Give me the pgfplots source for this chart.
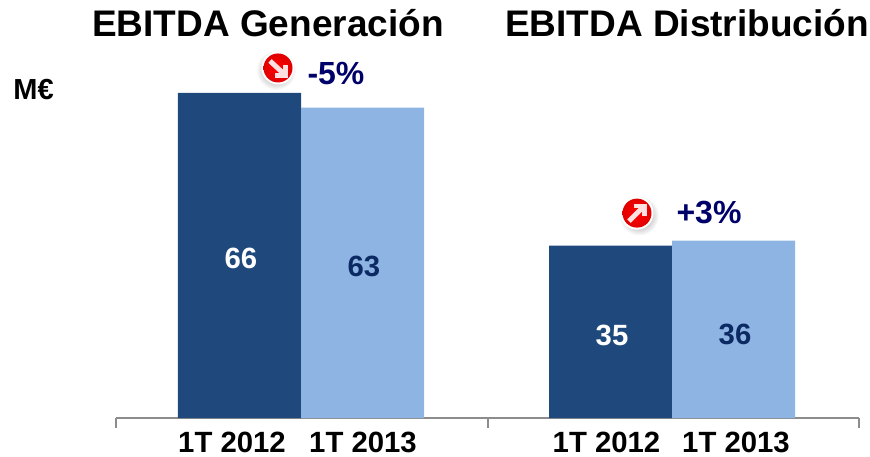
\documentclass[border=0pt]{standalone}
\usepackage{fontspec}
\setmainfont{Liberation Sans}
\usepackage{pgfplots}
\pgfplotsset{compat=1.18}
\usetikzlibrary{fadings,calc}
\definecolor{darkbar}{HTML}{1F497D}
\definecolor{lightbar}{HTML}{8EB4E3}
\definecolor{navy}{HTML}{00006B}
\definecolor{valblue}{HTML}{0B2A63}
\definecolor{axisgray}{HTML}{8C8C8C}
\tikzfading[name=badgeshadow,inner color=transparent!0,outer color=transparent!100]
\begin{document}
\begin{tikzpicture}[x=1pt,y=1pt]
\begin{axis}[
  scale only axis,
  width=743pt, height=418pt,
  xmin=116, xmax=859,
  ymin=0, ymax=84.87,
  axis y line=none,
  axis x line=bottom,
  axis line style={axisgray,line width=1.8pt,-},
  tick style={axisgray,line width=1.6pt},
  xtick={232,363,606.5,736},
  xticklabels={1T 2012,1T 2013,1T 2012,1T 2013},
  major tick length=0pt,
  extra x ticks={116,488,859},
  extra x tick labels={},
  extra x tick style={major tick length=10pt,tick align=outside},
  tick label style={font=\bfseries\fontsize{29.3}{32}\selectfont,text=black,yshift=-11pt},
  clip=false,
  bar shift=0pt,
  bar width=123pt,
]
\addplot[ybar,fill=darkbar,draw=none] coordinates {(239.5,66) (610.5,35)};
\addplot[ybar,fill=lightbar,draw=none] coordinates {(362.5,63) (733.5,36)};
% value labels
\node[text=white,font=\bfseries\fontsize{29.3}{32}\selectfont] at (axis cs:241,32.5) {66};
\node[text=valblue,font=\bfseries\fontsize{29.3}{32}\selectfont] at (axis cs:364,30.8) {63};
\node[text=white,font=\bfseries\fontsize{29.3}{32}\selectfont] at (axis cs:612,16.8) {35};
\node[text=valblue,font=\bfseries\fontsize{29.3}{32}\selectfont] at (axis cs:735,16.9) {36};
% titles and annotations
\node[inner sep=0pt,text=black,font=\bfseries\fontsize{37}{40}\selectfont] at (axis cs:268,80.1) {EBITDA Generación};
\node[inner sep=0pt,text=black,font=\bfseries\fontsize{37}{40}\selectfont] at (axis cs:687,80.1) {EBITDA Distribución};
\node[text=black,font=\bfseries\fontsize{29}{32}\selectfont] at (axis cs:33.5,66.7) {M€};
\node[text=navy,font=\bfseries\fontsize{32}{35}\selectfont] at (axis cs:336,69.9) {-5\%};
\node[text=navy,font=\bfseries\fontsize{32}{35}\selectfont] at (axis cs:709,41.8) {+3\%};
\coordinate (b1) at (axis cs:278,71.07);
\coordinate (b2) at (axis cs:637,41.6);
\coordinate (tl) at (axis cs:0,84.87);
\coordinate (br) at (axis cs:870,-7.72);
\end{axis}
\path (tl) -- (br);
\fill[black!50,path fading=badgeshadow] ($(b1)+(-2,-2)$) circle[radius=20pt];
\fill[white] (b1) circle[radius=16.5pt];
\shade[inner color=red,outer color=red!88!black] (b1) circle[radius=14.5pt];
\draw[white!88!red,line width=5pt] ($(b1)+(-8,7)$) -- ($(b1)+(6,-6)$);
\draw[white!88!red,line width=4.2pt] ($(b1)+(-3,-7.5)$) -- ($(b1)+(7.5,-7.5)$) -- ($(b1)+(7.5,3)$);
\fill[black!50,path fading=badgeshadow] ($(b2)+(2,-2.5)$) circle[radius=20pt];
\fill[white] (b2) circle[radius=16.5pt];
\shade[inner color=red,outer color=red!88!black] (b2) circle[radius=14.5pt];
\draw[white!88!red,line width=5pt] ($(b2)+(-8,-8)$) -- ($(b2)+(6,6)$);
\draw[white!88!red,line width=4.2pt] ($(b2)+(-3,7.5)$) -- ($(b2)+(7.5,7.5)$) -- ($(b2)+(7.5,-3)$);
\end{tikzpicture}
\end{document}
